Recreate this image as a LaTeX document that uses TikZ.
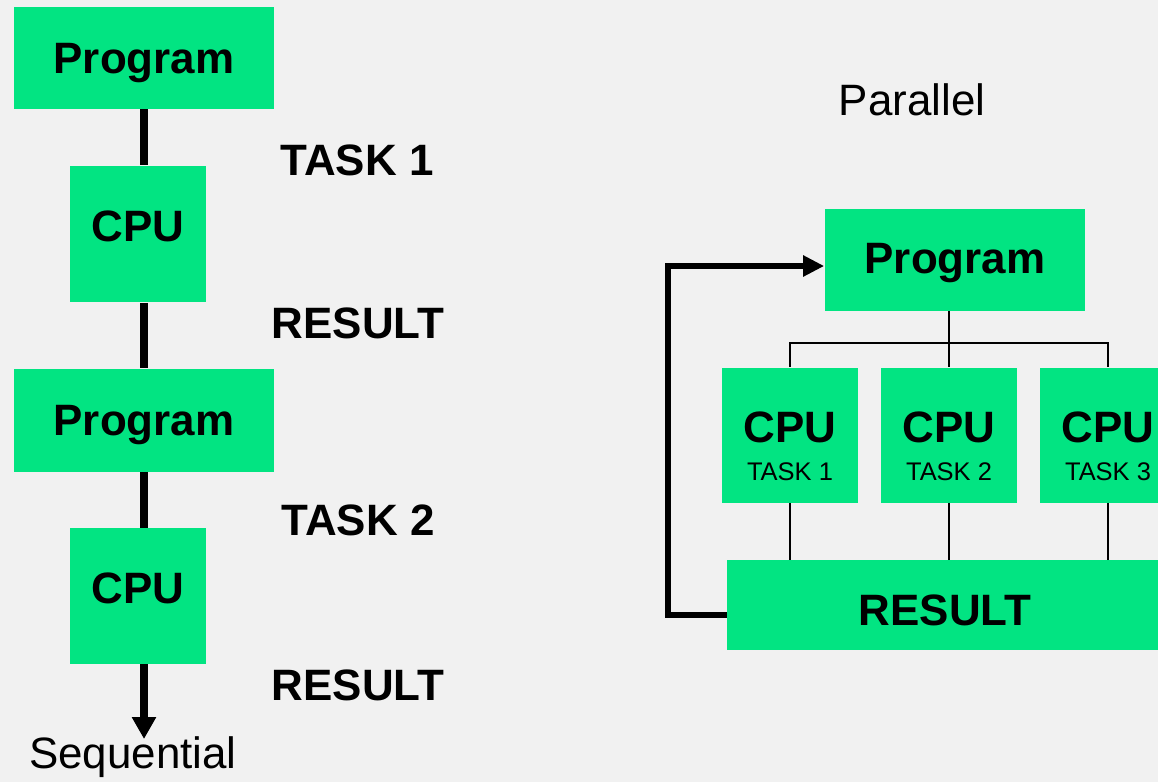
\documentclass[tikz,border=0pt]{standalone}
\usepackage{fontspec}
\setmainfont{Liberation Sans}
\usetikzlibrary{arrows.meta}
\definecolor{cpugreen}{RGB}{2,228,130}
\definecolor{bggray}{RGB}{241,241,241}
\begin{document}
\begin{tikzpicture}[x=0.02cm, y=-0.02cm,
        box/.style={fill=cpugreen, inner sep=0pt, text height=17.9pt, text depth=0pt,
            font=\bfseries\fontsize{25}{28}\selectfont},
        cpubox/.style={box, minimum width=2.72cm, text depth=9pt},
        lbl/.style={font=\bfseries\fontsize{25}{28}\selectfont},
        plain/.style={font=\fontsize{25}{28}\selectfont},
        small/.style={font=\fontsize{14.5}{17}\selectfont},
        seqline/.style={line width=4.5pt},
        thin/.style={line width=1.4pt},
        fb/.style={line width=3.4pt}]
        \fill[bggray] (0,0) rectangle (1158,782);
        \useasboundingbox (0,0) rectangle (1158,782);
        \clip (0,0) rectangle (1158,782);
        \node[box, minimum width=5.2cm, minimum height=2.04cm] (prog1) at (144,58) {Program};
        \node[cpubox, minimum height=2.74cm] (cpu1) at (138,234) {CPU};
        \node[box, minimum width=5.2cm, minimum height=2.06cm] (prog2) at (144,420) {Program};
        \node[cpubox, minimum height=2.72cm] (cpu2) at (138,596) {CPU};
        \node[plain] (seq) at (133,757) {Sequential};
        \coordinate (seqend) at (144,739);
        \draw[seqline] (prog1.south) -- (prog1.south |- cpu1.north);
        \draw[seqline] (prog1.south |- cpu1.south) -- (prog2.north);
        \draw[seqline] (prog2.south) -- (prog2.south |- cpu2.north);
        \draw[seqline, -{Triangle[length=0.44cm, width=0.46cm]}] (prog2.south |- cpu2.south) -- (seqend);
        \node[lbl] (task1) at (357,160) {TASK 1};
        \node[lbl] (res1) at (358,323) {RESULT};
        \node[lbl] (task2) at (358,520) {TASK 2};
        \node[lbl] (res2) at (358,685) {RESULT};
        \node[plain] (par) at (912,100) {Parallel};
        \node[box, minimum width=5.22cm, minimum height=2.04cm, text depth=2pt] (prog3) at (955,260) {Program};
        \node[cpubox, minimum height=2.7cm] (cpua) at (790,435) {CPU};
        \node[cpubox, minimum height=2.7cm] (cpub) at (949,435) {CPU};
        \node[cpubox, minimum height=2.7cm] (cpuc) at (1108,435) {CPU};
        \node[small] (taska) at (790,472) {TASK 1};
        \node[small] (taskb) at (949,472) {TASK 2};
        \node[small] (taskc) at (1108,472) {TASK 3};
        \node[box, minimum width=8.72cm, minimum height=1.8cm, text height=23pt] (res) at (945,605) {RESULT};
        \coordinate (bus) at (0,343);
        \draw[thin] (cpub.north |- prog3.south) -- (cpub.north);
        \draw[thin] (cpua.north) -- (cpua.north |- bus) -- (cpuc.north |- bus) -- (cpuc.north);
        \draw[thin] (cpua.south) -- (cpua.south |- res.north);
        \draw[thin] (cpub.south) -- (cpub.south |- res.north);
        \draw[thin] (cpuc.south) -- (cpuc.south |- res.north);
        \draw[fb, -{Triangle[length=0.42cm, width=0.4cm]}] ([yshift=-0.2cm]res.west) -- ++(-59,0) |- ([yshift=-0.12cm]prog3.west);
    \end{tikzpicture}
\end{document}
